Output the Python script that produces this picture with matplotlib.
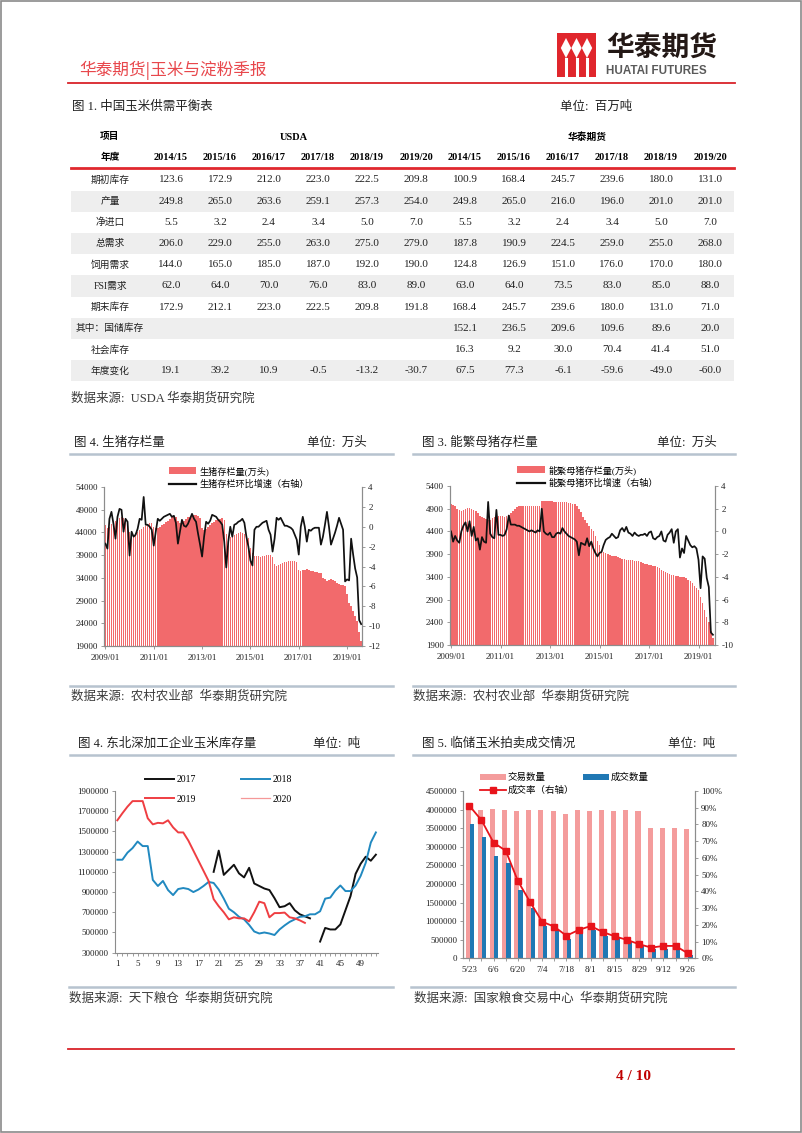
import matplotlib
matplotlib.use('Agg')
import matplotlib.pyplot as plt
from matplotlib.patches import Rectangle, Polygon, Patch
from matplotlib.lines import Line2D
import matplotlib.ticker as mticker
import numpy as np

plt.rcParams['font.family'] = ['Liberation Serif', 'Noto Sans CJK SC']
plt.rcParams['axes.unicode_minus'] = False

# ---------------- data ----------------
table_labels = ['期初库存', '产量', '净进口', '总需求', '饲用需求', 'FSI需求', '期末库存',
                '其中：国储库存', '社会库存', '年度变化']
table_years = ['2014/15', '2015/16', '2016/17', '2017/18', '2018/19', '2019/20']
usda_values = [
    [123.6, 172.9, 212.0, 223.0, 222.5, 209.8],
    [249.8, 265.0, 263.6, 259.1, 257.3, 254.0],
    [5.5, 3.2, 2.4, 3.4, 5.0, 7.0],
    [206.0, 229.0, 255.0, 263.0, 275.0, 279.0],
    [144.0, 165.0, 185.0, 187.0, 192.0, 190.0],
    [62.0, 64.0, 70.0, 76.0, 83.0, 89.0],
    [172.9, 212.1, 223.0, 222.5, 209.8, 191.8],
    [None] * 6,
    [None] * 6,
    [19.1, 39.2, 10.9, -0.5, -13.2, -30.7],
]
huatai_values = [
    [100.9, 168.4, 245.7, 239.6, 180.0, 131.0],
    [249.8, 265.0, 216.0, 196.0, 201.0, 201.0],
    [5.5, 3.2, 2.4, 3.4, 5.0, 7.0],
    [187.8, 190.9, 224.5, 259.0, 255.0, 268.0],
    [124.8, 126.9, 151.0, 176.0, 170.0, 180.0],
    [63.0, 64.0, 73.5, 83.0, 85.0, 88.0],
    [168.4, 245.7, 239.6, 180.0, 131.0, 71.0],
    [152.1, 236.5, 209.6, 109.6, 89.6, 20.0],
    [16.3, 9.2, 30.0, 70.4, 41.4, 51.0],
    [67.5, 77.3, -6.1, -59.6, -49.0, -60.0],
]

month_ticks = ['2009/01', '2011/01', '2013/01', '2015/01', '2017/01', '2019/01']

hog_inventory = [
    45600, 45000, 45200, 45800, 46200, 46500, 46800, 47100, 47300, 47200, 47000, 46500,
    44000, 43500, 43500, 43800, 44200, 44500, 44800, 45100, 45400, 45900, 46000, 46100,
    45200, 44900, 45000, 45300, 45600, 45900, 46200, 46500, 46900, 47300, 47600, 47500,
    46500, 46000, 46200, 46600, 47000, 47300, 47500, 47700, 47900, 47800, 47600, 47200,
    45000, 44600, 44800, 45200, 45600, 46000, 46400, 46700, 46800, 47000, 47100, 46800,
    43700, 43200, 43000, 43300, 43500, 43700, 43900, 44000, 43800, 43600, 43200, 42800,
    40500, 39500, 38900, 38800, 38800, 38700, 38800, 38900, 39000, 39100, 39000, 38700,
    37000, 36700, 36800, 37100, 37300, 37500, 37600, 37700, 37800, 37800, 37700, 37500,
    35800, 35600, 35700, 35800, 36000, 35800, 35600, 35400, 35300, 35200, 35100, 35000,
    34000, 33700, 33400, 33600, 33800, 33500, 33200, 32900, 32600, 32400, 32500, 32300,
    30500, 28500, 27800, 26700, 25600, 24400, 22100, 20000,
]
hog_mom = [
    -1.7, -2.2, 0.8, 1.5, 0.3, -1.2, 1.0, 1.8, 1.7, -0.5, 0.8, 0.5,
    -2.9, -0.5, -1.0, -0.8, -0.2, 0.8, 0.7, 3.0, 0.2, 0.2, 0.0, -0.3,
    -1.9, -0.5, 0.8, 0.6, 0.8, 1.0, 1.1, 1.2, 1.3, 1.0, 1.1, 0.4,
    -1.7, -0.5, 0.7, 0.1, 0.0, 0.3, 0.8, 1.3, 0.8, 0.5, -0.7, -1.8,
    -3.0, -1.0, 0.5, 0.3, 0.6, 1.2, 1.1, 1.0, 0.7, 0.5, 0.2, -1.5,
    -4.1, -1.5, 0.0, -1.0, 0.2, 0.3, 0.5, 0.6, 0.8, 0.4, -1.0, -2.0,
    -3.4, -3.9, -0.3, 0.0, 0.0, 0.2, 0.4, 0.5, 0.6, -0.3, -0.8, -2.5,
    -1.2, 0.9, 0.7, 0.9, 0.5, 0.1, 0.1, 0.0, -0.1, -0.3, -0.8, -1.3,
    -2.8, 0.0, 1.0, 0.0, -1.5, -0.3, -0.4, -0.2, -0.1, -0.1, -0.1, -1.8,
    -1.0, 0.2, 1.5, 0.0, -1.8, -1.2, -0.6, 0.1, 0.9, 0.3, -0.3, -5.5,
    -5.3, -5.4, -1.2, -2.8, -4.2, -5.1, -9.4, -9.8,
]

sow_inventory = [
    5000, 4980, 4950, 4900, 4870, 4850, 4870, 4890, 4910, 4910, 4900, 4880,
    4850, 4800, 4750, 4720, 4700, 4680, 4650, 4660, 4700, 4720, 4730, 4740,
    4740, 4730, 4720, 4730, 4760, 4800, 4850, 4900, 4930, 4950, 4960, 4960,
    4960, 4960, 4960, 4960, 4960, 4960, 4960, 4960, 5070, 5080, 5080, 5070,
    5070, 5060, 5050, 5050, 5050, 5050, 5040, 5040, 5040, 5030, 5020, 5000,
    5000, 4960, 4900, 4820, 4720, 4650, 4580, 4520, 4460, 4400, 4300, 4200,
    4100, 3980, 3950, 3920, 3900, 3880, 3870, 3860, 3850, 3840, 3820, 3800,
    3790, 3780, 3770, 3770, 3770, 3760, 3750, 3740, 3720, 3700, 3690, 3680,
    3670, 3660, 3650, 3640, 3620, 3600, 3560, 3530, 3500, 3480, 3460, 3440,
    3430, 3420, 3410, 3400, 3400, 3390, 3380, 3340, 3300, 3260, 3200, 3150,
    3100, 2950, 2820, 2680, 2520, 2400, 2200, 2050,
]
sow_mom = [
    0.0, -0.9, -0.4, -0.8, -1.0, 0.0, 0.5, 0.8, 0.0, 0.9, -0.4, 0.4,
    -0.8, -0.6, -1.6, -0.5, -0.9, -1.0, 2.6, -0.2, -0.5, -0.6, 1.9, -0.3,
    -0.3, -0.4, -0.3, 0.2, 1.4, 0.6, 0.6, 0.6, 0.5, 0.5, 0.4, 0.3,
    0.2, 0.1, 0.0, 0.1, 0.0, -0.1, 0.1, 0.0, 2.0, 0.0, -0.2, -0.3,
    -0.1, -0.5, -0.5, -0.2, -0.1, -0.2, 0.3, 0.0, -0.2, -0.4, -0.5, -0.6,
    -0.7, -0.9, -2.1, -1.0, -1.1, -1.2, -0.6, -1.3, -0.9, -1.5, -1.9, -2.2,
    -1.9, -1.8, -1.2, -0.75, -0.6, -0.5, -0.2, -0.4, -0.6, -0.5, 0.1, 0.3,
    0.0, 0.4, -0.1, -0.2, -0.4, -0.1, -0.3, -0.4, -0.3, -0.3, -0.2, -0.4,
    -0.1, 0.0, -0.6, -0.7, -0.5, -0.4, 0.0, -0.8, -0.9, -0.3, -0.1, 0.2,
    -1.0, 0.0, 0.2, -2.3, -1.5, -1.9, -0.4, -0.8, -1.2, -1.4, -1.3, -1.5,
    -2.5, -5.0, -2.2, -2.4, -4.1, -4.9, -8.9, -9.1,
]

weeks = list(range(1, 53))
stock_2017 = [None] * 19 + [
    1100000, 1310000, 1070000, 1120000, 1170000, 1085000, 1045000, 1140000, 985000, 960000,
    935000, 920000, 840000, 750000, 760000, 790000, 720000, 680000, 660000, 640000,
    None,
    410000, 545000, 530000, 530000, 580000, 720000, 860000, 1080000, 1180000, 1250000,
    1210000, 1270000]
stock_2018 = [
    1220000, 1220000, 1290000, 1335000, 1400000, 1355000, 1355000, 1020000, 960000, 1010000,
    920000, 870000, 930000, 940000, 930000, 900000, 925000, 960000, 1000000, 990000,
    925000, 835000, 735000, 700000, 655000, 630000, 575000, 510000, 490000, 500000,
    490000, 475000, 530000, 570000, 605000, 630000, 655000, 660000, 680000, 680000,
    710000, 835000, 845000, 915000, 965000, 910000, 910000, 965000, 1060000, 1190000,
    1390000, 1490000]
stock_2019 = [
    1610000, 1680000, 1745000, 1800000, 1800000, 1800000, 1630000, 1570000, 1585000, 1580000,
    1610000, 1540000, 1490000, 1490000, 1410000, 1310000, 1210000, 1110000, 1010000, 830000,
    760000, 700000, 630000, 650000, 640000, 640000, 610000, 700000, 805000, 790000,
    650000, 692000, 692000, 697000, 650000, 640000, 620000, 595000]
stock_2020 = []

auction_dates = ['5/23', '5/30', '6/6', '6/13', '6/20', '6/27', '7/4', '7/11', '7/18', '7/25',
                 '8/1', '8/8', '8/15', '8/22', '8/29', '9/5', '9/12', '9/19', '9/26']
auction_offer = [3990000, 3990000, 4010000, 3980000, 3970000, 3980000, 3980000, 3970000,
                 3880000, 3980000, 3950000, 3980000, 3960000, 4000000, 3960000, 3500000,
                 3510000, 3500000, 3490000]
auction_deal = [3620000, 3270000, 2750000, 2550000, 1830000, 1340000, 870000, 760000,
                520000, 680000, 760000, 610000, 540000, 450000, 340000, 240000, 260000,
                255000, 100000]
auction_rate = [0.912, 0.825, 0.691, 0.643, 0.462, 0.337, 0.219, 0.189, 0.135, 0.169,
                0.193, 0.157, 0.131, 0.110, 0.084, 0.064, 0.074, 0.074, 0.030]

# ---------------- layout helpers ----------------
W, H = 802, 1133
fig = plt.figure(figsize=(W / 100, H / 100), dpi=100)
base = fig.add_axes([0, 0, 1, 1])
base.set_xlim(0, W)
base.set_ylim(H, 0)
base.axis('off')


def box(x0, y0, x1, y1):
    return [x0 / W, 1 - y1 / H, (x1 - x0) / W, (y1 - y0) / H]


def fxy(x, y):
    return (x / W, 1 - y / H)


RED = '#D9232A'
SEP = '#B7C3CF'
TXT = '#222222'
SRC = '#3a3a3a'

# page border
base.add_patch(Rectangle((0.8, 0.8), W - 1.6, H - 1.6, fill=False, ec='#8a8a8a', lw=1.2))

# header
base.text(79, 70, '华泰期货|玉米与淀粉季报', fontsize=12, color='#E8474C',
          family=['Noto Sans CJK SC'], va='center', ha='left')
base.plot([68, 735], [83, 83], color=RED, lw=1.3)

# logo
base.add_patch(Rectangle((557, 33), 39, 44, fc='#E0262C', ec='none'))
for cx in (566, 576.5, 587):
    base.add_patch(Polygon([[cx, 38], [cx + 5.2, 48], [cx, 58], [cx - 5.2, 48]], closed=True,
                           fc='white', ec='none'))
    base.plot([cx, cx], [59, 76], color='white', lw=2.2)
base.text(606, 48, '华泰期货', fontsize=20, fontweight='bold', color='#231815',
          family=['Noto Sans CJK SC'], va='center', ha='left')
base.text(606, 71, 'HUATAI FUTURES', fontsize=8.4, fontweight='bold', color='#5a5a5a',
          family=['Liberation Sans'], va='center', ha='left')

# ---------------- table ----------------
base.text(72, 107, '图 1. 中国玉米供需平衡表', fontsize=9, color=TXT, va='center', ha='left')
base.text(560, 107, '单位:  百万吨', fontsize=9, color=TXT, va='center', ha='left')

col_x = [171 + 49 * i for i in range(12)]
row_y = [180 + 21.2 * i for i in range(10)]
label_x = 110

for i in range(1, 10, 2):
    base.add_patch(Rectangle((71, row_y[i] - 10.6), 663, 21.2, fc='#EEEEEE', ec='none'))

base.text(label_x, 137, '项目', fontsize=7, fontweight='bold', ha='center', va='center')
base.text((col_x[0] + col_x[5]) / 2, 137, 'USDA', fontsize=7.5, fontweight='bold',
          ha='center', va='center')
base.text((col_x[6] + col_x[11]) / 2, 137, '华泰期货', fontsize=7, fontweight='bold',
          ha='center', va='center')
base.text(label_x, 157, '年度', fontsize=7, fontweight='bold', ha='center', va='center')
for j, yr in enumerate(table_years + table_years):
    base.text(col_x[j], 157, yr, fontsize=7.5, fontweight='bold', ha='center', va='center')
base.plot([71, 734], [168, 168], color='#E0282E', lw=2)

for i, lab in enumerate(table_labels):
    base.text(label_x, row_y[i], lab, fontsize=7, color=TXT, ha='center', va='center')
    vals = usda_values[i] + huatai_values[i]
    for j, v in enumerate(vals):
        if v is not None:
            base.text(col_x[j], row_y[i], f'{v:.1f}', fontsize=8, color=TXT,
                      ha='center', va='center')

base.text(71, 399, '数据来源:  USDA 华泰期货研究院', fontsize=9, color=SRC, va='center', ha='left')

# ---------------- panel titles / separators ----------------
base.text(74, 443, '图 4. 生猪存栏量', fontsize=9, color=TXT, va='center', ha='left')
base.text(307, 443, '单位:  万头', fontsize=9, color=TXT, va='center', ha='left')
base.plot([70, 393], [454, 454], color=SEP, lw=1.8)
base.text(422, 443, '图 3. 能繁母猪存栏量', fontsize=9, color=TXT, va='center', ha='left')
base.text(657, 443, '单位:  万头', fontsize=9, color=TXT, va='center', ha='left')
base.plot([413, 735], [454, 454], color=SEP, lw=1.8)

base.plot([70, 393], [686, 686], color=SEP, lw=1.8)
base.plot([413, 735], [686, 686], color=SEP, lw=1.8)
base.text(71, 697, '数据来源:  农村农业部  华泰期货研究院', fontsize=9, color=SRC, va='center', ha='left')
base.text(413, 697, '数据来源:  农村农业部  华泰期货研究院', fontsize=9, color=SRC, va='center', ha='left')

base.text(78, 744, '图 4. 东北深加工企业玉米库存量', fontsize=9, color=TXT, va='center', ha='left')
base.text(313, 744, '单位:  吨', fontsize=9, color=TXT, va='center', ha='left')
base.plot([70, 393], [755, 755], color=SEP, lw=1.8)
base.text(422, 744, '图 5. 临储玉米拍卖成交情况', fontsize=9, color=TXT, va='center', ha='left')
base.text(668, 744, '单位:  吨', fontsize=9, color=TXT, va='center', ha='left')
base.plot([413, 735], [755, 755], color=SEP, lw=1.8)

base.plot([69, 393], [987, 987], color=SEP, lw=1.8)
base.plot([411, 735], [987, 987], color=SEP, lw=1.8)
base.text(69, 999, '数据来源:  天下粮仓  华泰期货研究院', fontsize=9, color=SRC, va='center', ha='left')
base.text(414, 999, '数据来源:  国家粮食交易中心  华泰期货研究院', fontsize=9, color=SRC,
          va='center', ha='left')

base.plot([68, 734], [1049, 1049], color=RED, lw=1.3)
base.text(633, 1077, '4 / 10', fontsize=11, fontweight='bold', color='#C00000',
          ha='center', va='center')

AX_GRAY = '#8c8c8c'
TICK_FS = 6.5


def style_axes(ax):
    ax.spines['top'].set_visible(False)
    for s in ('left', 'bottom', 'right'):
        ax.spines[s].set_color(AX_GRAY)
        ax.spines[s].set_linewidth(0.8)
    ax.tick_params(axis='both', labelsize=TICK_FS, labelcolor=TXT, length=2.5, width=0.6,
                   direction='out', pad=2, color=AX_GRAY)
    ax.set_facecolor('none')


BAR_RED = '#F26A6C'

# ---------------- panel A: hog inventory ----------------
axA = fig.add_axes(box(104, 487, 362, 646))
xA = np.arange(len(hog_inventory))
axA.bar(xA, hog_inventory, width=0.72, color=BAR_RED, linewidth=0, zorder=1,
        antialiased=False)
axA.set_ylim(19000, 54000)
axA.set_yticks(np.arange(19000, 54001, 5000))
axA.set_xlim(-0.7, 127.4)
axA.set_xticks(np.arange(0, 121, 24))
axA.set_xticklabels(month_ticks)
style_axes(axA)
axA.tick_params(axis='x', pad=3)
axA2 = axA.twinx()
axA2.plot(xA, hog_mom, color='#111111', lw=1.25)
axA2.set_ylim(-12, 4)
axA2.set_yticks(np.arange(-12, 5, 2))
style_axes(axA2)
axA.legend([Patch(fc=BAR_RED, ec='none'), Line2D([], [], color='#111111', lw=1.6)],
           ['生猪存栏量(万头)', '生猪存栏环比增速（右轴）'],
           loc='upper left', bbox_to_anchor=fxy(169, 466), bbox_transform=fig.transFigure,
           frameon=False, fontsize=6.6, handlelength=2.9, handletextpad=0.4,
           labelspacing=0.4, borderpad=0, borderaxespad=0)

# ---------------- panel B: sow inventory ----------------
axB = fig.add_axes(box(450, 486, 715, 645))
xB = np.arange(len(sow_inventory))
axB.bar(xB, sow_inventory, width=0.72, color=BAR_RED, linewidth=0, zorder=1,
        antialiased=False)
axB.set_ylim(1900, 5400)
axB.set_yticks(np.arange(1900, 5401, 500))
axB.set_xlim(-0.5, 128)
axB.set_xticks(np.arange(0, 121, 24))
axB.set_xticklabels(month_ticks)
style_axes(axB)
axB.tick_params(axis='x', pad=3)
axB2 = axB.twinx()
axB2.plot(xB, sow_mom, color='#111111', lw=1.25)
axB2.set_ylim(-10, 4)
axB2.set_yticks(np.arange(-10, 5, 2))
style_axes(axB2)
axB.legend([Patch(fc=BAR_RED, ec='none'), Line2D([], [], color='#111111', lw=1.6)],
           ['能繁母猪存栏量(万头)', '能繁母猪环比增速（右轴）'],
           loc='upper left', bbox_to_anchor=fxy(517, 465), bbox_transform=fig.transFigure,
           frameon=False, fontsize=6.6, handlelength=3.0, handletextpad=0.4,
           labelspacing=0.4, borderpad=0, borderaxespad=0)

# ---------------- panel C: corn stocks ----------------
def to_arr(seq):
    return np.array([np.nan if v is None else v for v in seq], dtype=float)


axC = fig.add_axes(box(114.8, 791, 378.4, 952.7))
hC = []
hC.append(axC.plot(weeks[:len(stock_2017)], to_arr(stock_2017), color='#111111', lw=1.4,
                   label='2017')[0])
hC.append(axC.plot(weeks[:len(stock_2018)], to_arr(stock_2018), color='#2189C0', lw=1.4,
                   label='2018')[0])
hC.append(axC.plot(weeks[:len(stock_2019)], to_arr(stock_2019), color='#EF3E42', lw=1.4,
                   label='2019')[0])
hC.append(axC.plot(weeks[:len(stock_2020)], to_arr(stock_2020), color='#F59898', lw=0.9,
                   label='2020')[0])
axC.set_xlim(0.5, 52.5)
axC.set_ylim(300000, 1900000)
axC.set_yticks(np.arange(300000, 1900001, 200000))
axC.yaxis.set_major_formatter(mticker.FuncFormatter(lambda v, p: f'{int(v)}'))
axC.set_xticks(np.arange(1, 53, 4))
axC.set_xticks(np.arange(1, 53, 1), minor=True)
style_axes(axC)
axC.spines['right'].set_visible(False)
axC.tick_params(axis='x', which='minor', length=2, color=AX_GRAY)
axC.tick_params(axis='x', pad=3)
axC.legend([hC[0], hC[2], hC[1], hC[3]], ['2017', '2019', '2018', '2020'], ncol=2,
           loc='upper left', bbox_to_anchor=fxy(145, 775), bbox_transform=fig.transFigure,
           frameon=False, fontsize=7, handlelength=3.0, handletextpad=0.25,
           labelspacing=1.1, columnspacing=4.6, borderpad=0, borderaxespad=0)

# ---------------- panel D: auction ----------------
axD = fig.add_axes(box(463.3, 791, 695, 958.3))
xD = np.arange(len(auction_dates))
b1 = axD.bar(xD - 0.1, auction_offer, width=0.42, color='#F49C9C', linewidth=0, zorder=1)
b2 = axD.bar(xD + 0.22, auction_deal, width=0.36, color='#2078B4', linewidth=0, zorder=2)
axD.set_ylim(0, 4500000)
axD.set_yticks(np.arange(0, 4500001, 500000))
axD.yaxis.set_major_formatter(mticker.FuncFormatter(lambda v, p: f'{int(v)}'))
axD.set_xlim(-0.5, 18.6)
axD.set_xticks(xD[::2])
axD.set_xticklabels(auction_dates[::2])
axD.set_xticks(xD, minor=True)
style_axes(axD)
axD.tick_params(axis='x', which='minor', length=2, color=AX_GRAY)
axD.tick_params(axis='x', pad=3)
axD2 = axD.twinx()
ln, = axD2.plot(xD, auction_rate, color='#E8141B', lw=1.3, marker='s', markersize=4)
axD2.set_ylim(0, 1.0)
axD2.set_yticks(np.arange(0, 1.01, 0.1))
axD2.yaxis.set_major_formatter(mticker.PercentFormatter(1.0, decimals=0))
style_axes(axD2)
axD.legend([b1, ln, b2], ['交易数量', '成交率（右轴）', '成交数量'], ncol=2,
           loc='upper left', bbox_to_anchor=fxy(480, 773), bbox_transform=fig.transFigure,
           frameon=False, fontsize=6.8, handlelength=2.7, handletextpad=0.2,
           labelspacing=0.35, columnspacing=1.0, borderpad=0, borderaxespad=0)

fig.savefig('out.png', dpi=100)
